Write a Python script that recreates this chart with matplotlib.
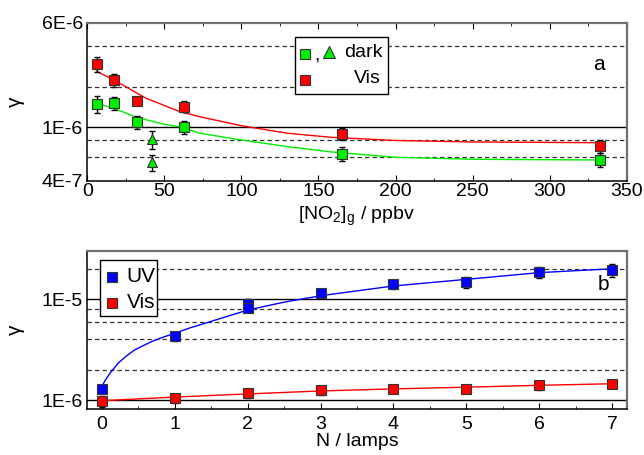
import matplotlib
matplotlib.use('Agg')
import matplotlib.pyplot as plt
import numpy as np
from matplotlib.ticker import MultipleLocator, NullLocator

plt.rcParams['font.family'] = ['Liberation Sans', 'DejaVu Sans']
plt.rcParams['mathtext.default'] = 'regular'

# Панель a: gamma от [NO2]
no2 = [6, 17, 32, 63, 165, 333]
vis_a = [2.96e-6, 2.26e-6, 1.57e-6, 1.43e-6, 8.99e-7, 7.3e-7]
vis_a_err = [0.13, 0.11, 0.07, 0.09, 0.10, 0.11]
dark_a = [1.50e-6, 1.52e-6, 1.10e-6, 1.00e-6, 6.38e-7, 5.73e-7]
dark_a_err = [0.15, 0.11, 0.11, 0.11, 0.12, 0.12]
tri_x = [42, 42]
tri_y = [8.17e-7, 5.5e-7]
tri_err = [0.16, 0.13]

# аппроксимирующие кривые
fit_vis_x = [6, 17, 38, 60, 73, 100, 130, 158, 200, 250, 333]
fit_vis_y = [2.61e-6, 2.26e-6, 1.65e-6, 1.31e-6, 1.20e-6, 1.03e-6, 9.05e-7, 8.45e-7, 8.0e-7, 7.8e-7, 7.7e-7]
fit_dark_x = [6, 17, 32, 49, 62, 73, 100, 130, 158, 200, 250, 333]
fit_dark_y = [1.51e-6, 1.39e-6, 1.19e-6, 1.06e-6, 1.0e-6, 9.05e-7, 8.07e-7, 7.2e-7, 6.58e-7, 6.0e-7, 5.8e-7, 5.73e-7]

# Панель b: gamma от числа ламп
lamps_uv = [0, 1, 2, 2, 3, 4, 5, 6, 7]
uv = [1.29e-6, 4.3e-6, 9.0e-6, 8.2e-6, 1.14e-5, 1.41e-5, 1.47e-5, 1.86e-5, 1.94e-5]
uv_err = [0.10, 0.10, 0.12, 0.10, 0.10, 0.10, 0.12, 0.12, 0.15]
lamps_vis = [0, 1, 2, 3, 4, 5, 6, 7]
vis_b = [9.8e-7, 1.05e-6, 1.17e-6, 1.26e-6, 1.29e-6, 1.29e-6, 1.41e-6, 1.45e-6]
vis_b_err = [0.12, 0.10, 0.10, 0.10, 0.10, 0.10, 0.10, 0.10]

fit_uv_x = [0, 0.041, 0.11, 0.22, 0.339, 0.45, 0.567, 0.68, 0.841, 1.0, 1.21, 1.41,
            2, 2.5, 3, 4, 5, 6, 7]
fit_uv_y = [1.36e-6, 1.55e-6, 1.84e-6, 2.31e-6, 2.74e-6, 3.14e-6, 3.46e-6, 3.79e-6,
            4.2e-6, 4.59e-6, 5.19e-6, 5.75e-6, 7.8e-6, 9.33e-6, 1.08e-5, 1.35e-5,
            1.57e-5, 1.83e-5, 2.0e-5]
fit_visb_x = [0, 1, 2, 3, 4, 5, 6, 7]
fit_visb_y = [9.85e-7, 1.07e-6, 1.15e-6, 1.23e-6, 1.29e-6, 1.34e-6, 1.40e-6, 1.45e-6]

RED = '#ff0000'
GREEN = '#00ee00'
BLUE = '#0000ff'
EDGE = '#333333'
FS = 14

fig = plt.figure(figsize=(6.44, 4.55), dpi=100)
ax1 = fig.add_axes([0.1356, 0.6022, 0.8375, 0.348])
ax2 = fig.add_axes([0.1356, 0.1011, 0.8375, 0.3473])


def frame(ax, xpad):
    ax.set_yscale('log')
    for s in ['left', 'bottom']:
        ax.spines[s].set_color('black')
        ax.spines[s].set_linewidth(1.1)
    for s in ['top', 'right']:
        ax.spines[s].set_color('#707070')
        ax.spines[s].set_linewidth(1.6)
    ax.yaxis.set_minor_locator(NullLocator())
    ax.tick_params(axis='y', which='both', length=0, labelsize=FS, pad=3)
    ax.tick_params(axis='x', which='major', direction='in', length=4, labelsize=FS, pad=xpad)
    ax.tick_params(axis='x', which='minor', direction='in', length=2.5)


def hlines(ax, solid, dashed):
    for v in solid:
        ax.axhline(v, color='black', lw=1.0, zorder=1)
    for v in dashed:
        ax.axhline(v, color='#333333', lw=0.9, ls=(0, (3.5, 2.5)), zorder=1)


def points(ax, x, y, rel, color, marker):
    err = np.array(rel) * np.array(y)
    ax.errorbar(x, y, yerr=err, fmt='none', ecolor='black', elinewidth=1,
                capsize=2.5, capthick=1, zorder=3)
    ax.plot(x, y, ls='none', marker=marker, ms=7, mfc=color, mec=EDGE,
            mew=0.8, zorder=4)


# ---- панель a ----
frame(ax1, 1.5)
ax1.set_xlim(0, 350)
ax1.set_ylim(4e-7, 6e-6)
ax1.xaxis.set_major_locator(MultipleLocator(50))
ax1.xaxis.set_minor_locator(MultipleLocator(25))
ax1.tick_params(axis='x', which='both', top=True)
ax1.set_yticks([4e-7, 1e-6, 6e-6])
ax1.set_yticklabels(['4E-7', '1E-6', '6E-6'])
hlines(ax1, [1e-6], [6e-7, 8e-7, 2e-6, 4e-6])

ax1.plot(fit_vis_x, fit_vis_y, color=RED, lw=1, zorder=2)
ax1.plot(fit_dark_x, fit_dark_y, color=GREEN, lw=1, zorder=2)
points(ax1, no2, vis_a, vis_a_err, RED, 's')
points(ax1, no2, dark_a, dark_a_err, GREEN, 's')
points(ax1, tri_x, tri_y, tri_err, GREEN, '^')

ax1.set_xlabel('[NO$_2$]$_g$ / ppbv', fontsize=FS)
ax1.xaxis.set_label_coords(0.5, -0.15)
ax1.set_ylabel('γ', fontsize=FS + 1, va='center')
ax1.yaxis.set_label_coords(-0.134, 0.5)
ax1.text(0.949, 0.733, 'a', transform=ax1.transAxes, fontsize=FS + 1,
         ha='center', va='center')

# легенда панели a
box = plt.Rectangle((0.3845, 0.55), 0.1725, 0.36, transform=ax1.transAxes,
                    fc='white', ec='black', lw=1, zorder=5)
ax1.add_patch(box)
ax1.plot([0.4035], [0.802], transform=ax1.transAxes, marker='s', ms=7,
         mfc=GREEN, mec=EDGE, mew=0.8, zorder=6, clip_on=False)
ax1.text(0.426, 0.79, ',', transform=ax1.transAxes, fontsize=FS,
         ha='center', va='center', zorder=6)
ax1.plot([0.4486], [0.812], transform=ax1.transAxes, marker='^', ms=8,
         mfc=GREEN, mec=EDGE, mew=0.8, zorder=6, clip_on=False)
ax1.text(0.476, 0.81, 'dark', transform=ax1.transAxes, fontsize=FS,
         ha='left', va='center', zorder=6)
ax1.plot([0.4035], [0.638], transform=ax1.transAxes, marker='s', ms=7,
         mfc=RED, mec=EDGE, mew=0.8, zorder=6, clip_on=False)
ax1.text(0.494, 0.645, 'Vis', transform=ax1.transAxes, fontsize=FS,
         ha='left', va='center', zorder=6)

# ---- панель b ----
frame(ax2, 5)
ax2.set_xlim(-0.2, 7.2)
ax2.set_ylim(8.15e-7, 3e-5)
ax2.xaxis.set_major_locator(MultipleLocator(1))
ax2.xaxis.set_minor_locator(MultipleLocator(0.5))
ax2.set_yticks([1e-6, 1e-5])
ax2.set_yticklabels(['1E-6', '1E-5'])
hlines(ax2, [1e-6, 1e-5], [2e-6, 4e-6, 6e-6, 8e-6, 2e-5])

ax2.plot(fit_uv_x, fit_uv_y, color=BLUE, lw=1, zorder=2)
ax2.plot(fit_visb_x, fit_visb_y, color=RED, lw=1, zorder=2)
points(ax2, lamps_uv, uv, uv_err, BLUE, 's')
points(ax2, lamps_vis, vis_b, vis_b_err, RED, 's')

ax2.set_xlabel('N / lamps', fontsize=FS)
ax2.xaxis.set_label_coords(0.5, -0.152)
ax2.set_ylabel('γ', fontsize=FS + 1, va='center')
ax2.yaxis.set_label_coords(-0.134, 0.5)
ax2.text(0.956, 0.785, 'b', transform=ax2.transAxes, fontsize=FS + 1,
         ha='center', va='center')

box2 = plt.Rectangle((0.0235, 0.59), 0.1055, 0.353, transform=ax2.transAxes,
                     fc='white', ec='black', lw=1, zorder=5)
ax2.add_patch(box2)
ax2.plot([0.045], [0.837], transform=ax2.transAxes, marker='s', ms=7,
         mfc=BLUE, mec=EDGE, mew=0.8, zorder=6, clip_on=False)
ax2.text(0.073, 0.84, 'UV', transform=ax2.transAxes, fontsize=FS + 1,
         ha='left', va='center', zorder=6)
ax2.plot([0.045], [0.669], transform=ax2.transAxes, marker='s', ms=7,
         mfc=RED, mec=EDGE, mew=0.8, zorder=6, clip_on=False)
ax2.text(0.073, 0.672, 'Vis', transform=ax2.transAxes, fontsize=FS + 1,
         ha='left', va='center', zorder=6)

fig.savefig('out.png', dpi=100)
